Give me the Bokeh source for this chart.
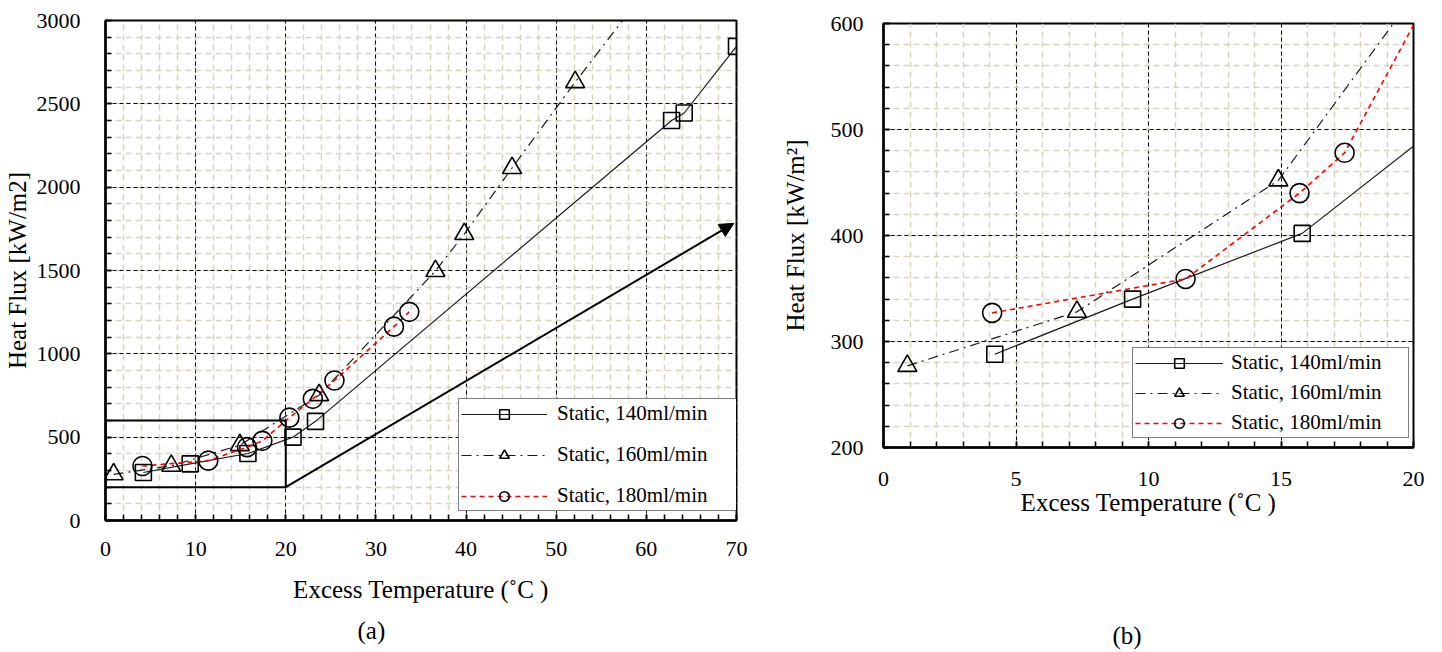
from bokeh.plotting import figure
from bokeh.layouts import row, column
from bokeh.models import (Range1d, SingleIntervalTicker, FixedTicker, Legend,
                          LegendItem, BoxAnnotation, Arrow, NormalHead, Title,
                          LinearAxis)
from bokeh.embed import file_html
from bokeh.resources import INLINE

# ---- data (Excess temperature [C], Heat flux [kW/m2]) ----
t140_x = [4.2, 9.4, 15.8, 20.8, 23.3, 62.8, 64.2, 70.0]
t140_y = [288, 340, 402, 500, 595, 2400, 2445, 2845]

t160_x = [0.9, 7.3, 14.9, 23.7, 36.6, 39.8, 45.1, 52.1, 58.5]
t160_y = [277, 328, 452, 752, 1497, 1719, 2115, 2630, 3080]

t180_x = [4.1, 11.4, 15.7, 17.4, 20.4, 23.0, 25.4, 32.0, 33.7]
t180_y = [327, 359, 440, 478, 617, 730, 840, 1163, 1252]

labels = ["Static, 140ml/min", "Static, 160ml/min", "Static, 180ml/min"]

FULL_X = (0, 70)
FULL_Y = (0, 3000)
ZOOM_X = (0, 20)
ZOOM_Y = (200, 600)
ARROW_END = (69.7, 1783)

FONT = "Liberation Serif"
BEIGE = "#d9d3bd"


def style(p, xint, yint, ylabel, tick_standoff_x, label_standoff_x,
          tick_standoff_y, label_standoff_y):
    xt = SingleIntervalTicker(interval=xint, num_minor_ticks=5)
    yt = SingleIntervalTicker(interval=yint, num_minor_ticks=5)
    p.xaxis.ticker = xt
    p.yaxis.ticker = yt
    p.xgrid.ticker = xt
    p.ygrid.ticker = yt
    for g in (p.xgrid, p.ygrid):
        g.grid_line_color = "black"
        g.grid_line_dash = "4 3"
        g.grid_line_width = 1
        g.minor_grid_line_color = BEIGE
        g.minor_grid_line_dash = "6 4"
        g.minor_grid_line_width = 1.5
    for ax in (p.xaxis, p.yaxis):
        ax.axis_line_color = "black"
        ax.axis_line_width = 2.5
        ax.major_tick_in = 6
        ax.major_tick_out = 0
        ax.minor_tick_in = 6
        ax.minor_tick_out = 0
        ax.major_tick_line_width = 1.5
        ax.minor_tick_line_width = 1.5
        ax.major_tick_line_color = "black"
        ax.minor_tick_line_color = "black"
        ax.major_label_text_font = FONT
        ax.major_label_text_font_size = "22px"
        ax.major_label_text_color = "black"
        ax.axis_label_text_font = FONT
        ax.axis_label_text_font_size = "25px"
        ax.axis_label_text_font_style = "normal"
        ax.axis_label_text_color = "black"
    p.xaxis.axis_label = "Excess Temperature (\u02daC )"
    p.yaxis.axis_label = ylabel
    p.xaxis.major_label_standoff = tick_standoff_x
    p.xaxis.axis_label_standoff = label_standoff_x
    p.yaxis.major_label_standoff = tick_standoff_y
    p.yaxis.axis_label_standoff = label_standoff_y
    p.outline_line_color = "black"
    p.outline_line_width = 2
    p.background_fill_color = "white"
    p.border_fill_color = "white"


def add_series(p):
    l1 = p.line(t140_x, t140_y, line_color="#1a1a1a", line_width=1.2)
    m1 = p.scatter(t140_x, t140_y, marker="square", size=16, fill_alpha=0,
                   line_color="black", line_width=1.6)
    l2 = p.line(t160_x, t160_y, line_color="#1a1a1a", line_width=1.2,
                line_dash="10 5 2 5")
    m2 = p.scatter(t160_x, t160_y, marker="triangle", size=19, fill_alpha=0,
                   line_color="black", line_width=1.6)
    l3 = p.line(t180_x, t180_y, line_color="#ff0000", line_width=1.6,
                line_dash="5 4")
    m3 = p.scatter(t180_x, t180_y, marker="circle", size=19, fill_alpha=0,
                   line_color="black", line_width=1.6)
    return [[l1, m1], [l2, m2], [l3, m3]]


def add_legend(p, rends, loc, glyph_width, standoff, label_width, spacing):
    items = [LegendItem(label=lab, renderers=r) for lab, r in zip(labels, rends)]
    lg = Legend(items=items, location=loc, padding=2, spacing=spacing,
                glyph_width=glyph_width, glyph_height=24, label_height=24,
                label_width=label_width, label_standoff=standoff,
                label_text_font=FONT, label_text_font_size="21px",
                label_text_color="black",
                border_line_color="black", border_line_width=1.6,
                background_fill_color="white", background_fill_alpha=1,
                margin=0)
    p.add_layout(lg)


def caption(text, offset, standoff):
    return Title(text=text, align="left", offset=offset, standoff=standoff,
                 text_font=FONT, text_font_size="25px",
                 text_font_style="normal", text_color="black")


H = 652

# ---------------- (a) ----------------
pa = figure(width=773, height=H, output_backend="svg", toolbar_location=None,
            x_range=Range1d(*FULL_X), y_range=Range1d(*FULL_Y),
            min_border_left=105, min_border_right=37, min_border_top=20,
            min_border_bottom=H - 521)
style(pa, 10, 500, "Heat Flux [kW/m2]", 21, 17, 25, 3)
ra = add_series(pa)
pa.add_layout(BoxAnnotation(left=ZOOM_X[0], right=ZOOM_X[1], bottom=ZOOM_Y[0],
                            top=ZOOM_Y[1], fill_alpha=0, line_color="black",
                            line_alpha=1, line_width=2))
pa.add_layout(Arrow(end=NormalHead(size=14, fill_color="black", line_color="black"),
                    x_start=ZOOM_X[1], y_start=ZOOM_Y[0],
                    x_end=ARROW_END[0], y_end=ARROW_END[1],
                    line_color="black", line_width=2))
add_legend(pa, ra, (353, 9), 86, 10, 179, 16)
pa.add_layout(caption("(a)", 252, 18), "below")

# ---------------- (b) ----------------
pb = figure(width=669, height=H, output_backend="svg", toolbar_location=None,
            x_range=Range1d(*ZOOM_X), y_range=Range1d(*ZOOM_Y),
            min_border_left=110, min_border_right=29, min_border_top=23,
            min_border_bottom=H - 447)
style(pb, 5, 100, "Heat Flux [kW/m\u00b2]", 24, 0, 20, 19)
rb = add_series(pb)
add_legend(pb, rb, (249, 9), 88, 8, 175, 5)
# invisible spacer axis to push the caption down
spacer = LinearAxis(ticker=FixedTicker(ticks=[]), axis_line_color=None,
                    major_tick_line_color=None, minor_tick_line_color=None,
                    major_tick_in=0, major_tick_out=0, major_label_standoff=0,
                    axis_label="\u00a0", axis_label_standoff=68,
                    axis_label_text_font=FONT, axis_label_text_font_size="25px")
pb.add_layout(spacer, "below")
pb.add_layout(caption("(b)", 229, 7), "below")

layout = row(column(pa), column(pb))
open("out.html", "w").write(file_html(layout, INLINE))
